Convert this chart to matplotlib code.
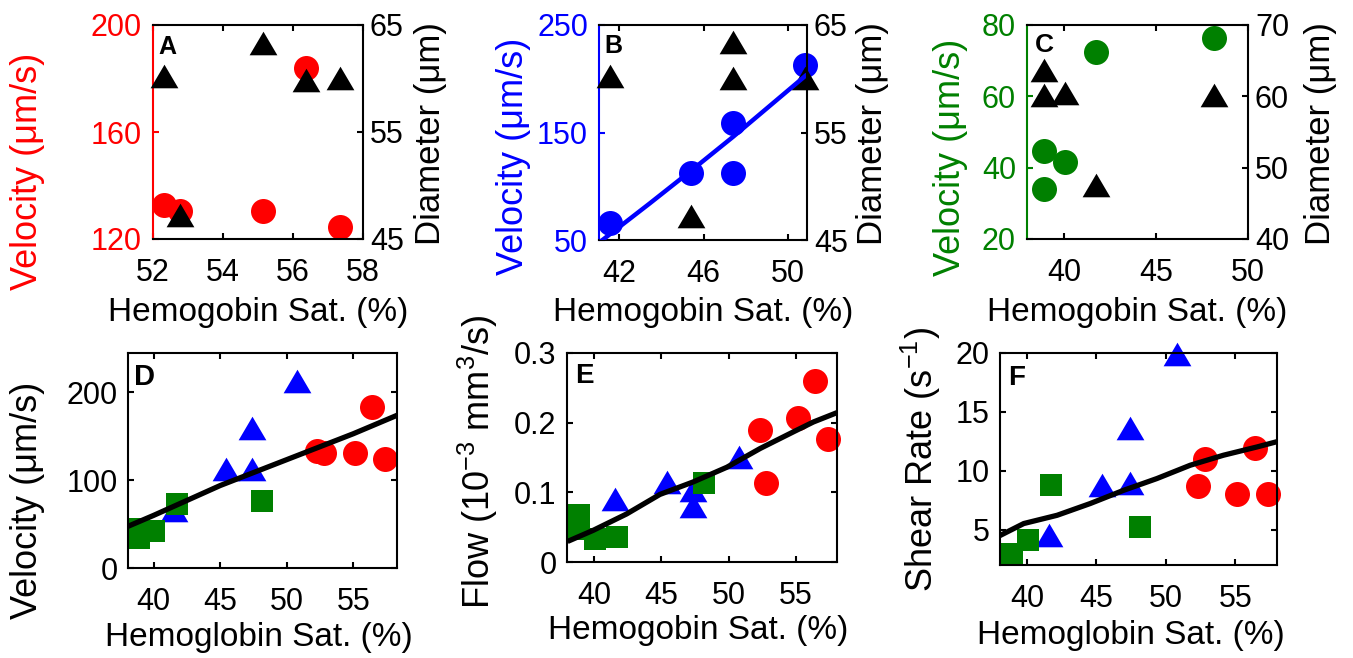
import matplotlib
matplotlib.use('Agg')
import matplotlib.pyplot as plt

plt.rcParams['font.family'] = ['Liberation Sans', 'DejaVu Sans']
plt.rcParams['mathtext.fontset'] = 'custom'
plt.rcParams['mathtext.rm'] = 'Liberation Sans'
plt.rcParams['mathtext.it'] = 'Liberation Sans:italic'
plt.rcParams['mathtext.bf'] = 'Liberation Sans:bold'

# ---------------- data ----------------
# Panel A (red group)
a_sat = [52.3, 52.78, 55.13, 56.38, 57.35]
a_vel = [132.8, 130.6, 130.6, 183.8, 124.4]
a_diam = [60.2, 47.2, 63.35, 59.9, 60.0]
a_flow = [0.189, 0.113, 0.206, 0.260, 0.177]
a_shear = [8.68, 11.04, 8.0, 11.94, 8.0]

# Panel B (blue group)
b_sat = [41.55, 45.4, 47.38, 47.38, 50.8]
b_vel = [66.1, 112.6, 159.1, 112.6, 212.8]
b_diam = [60.25, 47.2, 60.04, 63.4, 60.07]
b_flow = [0.091, 0.115, 0.103, 0.081, 0.151]
b_shear = [4.52, 8.77, 13.63, 8.96, 19.95]
b_fit_sat = [41.05, 43.45, 45.35, 47.4, 49.0, 50.9]
b_fit_vel = [47.5, 84.0, 113.5, 146.0, 172.5, 204.0]

# Panel C (green group)
c_sat = [38.92, 38.92, 40.05, 41.74, 48.16]
c_vel = [44.8, 34.0, 41.7, 72.5, 76.4]
c_diam = [63.7, 60.2, 60.5, 47.5, 60.25]
c_flow = [0.067, 0.048, 0.0326, 0.0354, 0.114]
c_shear = [2.97, 2.97, 4.1, 8.77, 5.23]

# fitted trend lines for pooled data (D, E, F)
d_fit_sat = [38.07, 40.0, 45.0, 50.0, 55.0, 58.28]
d_fit_vel = [47.5, 60.0, 94.0, 123.5, 153.0, 174.0]
e_fit_sat = [38.22, 39.95, 42.43, 44.9, 47.38, 49.87, 52.35, 54.83, 56.3, 58.0]
e_fit_flow = [0.031, 0.0455, 0.069, 0.097, 0.115, 0.136, 0.163, 0.187, 0.201, 0.214]
f_fit_sat = [38.08, 39.76, 42.16, 44.55, 46.95, 49.35, 51.75, 54.14, 56.55, 57.93]
f_fit_shear = [4.52, 5.52, 6.22, 7.22, 8.34, 9.34, 10.47, 11.32, 12.02, 12.45]

RED = '#ff0000'
BLUE = '#0000ff'
GREEN = '#008000'

W, H = 1353, 658
fig = plt.figure(figsize=(W / 100, H / 100), dpi=100)

TICK_FS = 22
XLAB_FS = 24
YLAB_FS = 26
RLAB_FS = 25

TRI = [(-1.0, -0.85), (1.0, -0.85), (0.0, 0.85)]
CIRC_MS = 18
TRI_MS = 20
SQ_MS = 16.5


def add_axes(x0, y0, x1, y1):
    return fig.add_axes([x0 / W, 1 - y1 / H, (x1 - x0) / W, (y1 - y0) / H])


def style(ax, lw=1.5):
    for s in ax.spines.values():
        s.set_linewidth(lw)
    ax.tick_params(direction='in', length=4, width=1.5, labelsize=TICK_FS)
    ax.tick_params(axis='x', pad=13.5)


def xlabel(text, xc, yb):
    fig.text(xc / W, 1 - yb / H, text, ha='center', va='baseline', fontsize=XLAB_FS)


def ylabel(text, xb, yc, color='black', fs=YLAB_FS):
    fig.text(xb / W, 1 - yc / H, text, ha='center', va='baseline', rotation=90,
             rotation_mode='anchor', fontsize=fs, color=color)


def plabel(text, x, yb, fs):
    fig.text(x / W, 1 - yb / H, text, ha='left', va='baseline', fontsize=fs,
             fontweight='bold')


def top_panel(box, sat, vel, diam, color, xlim, xticks, ylim, yticks, dlim, dticks,
              fit=None):
    ax = add_axes(*box)
    ax2 = ax.twinx()
    style(ax)
    style(ax2)
    ax.set_xlim(*xlim)
    ax.set_ylim(*ylim)
    ax2.set_ylim(*dlim)
    ax.set_xticks(xticks)
    ax.set_yticks(yticks)
    ax2.set_yticks(dticks)
    ax.tick_params(axis='x', top=True, colors='black')
    ax.tick_params(axis='y', colors=color, pad=8)
    ax2.tick_params(axis='y', colors='black', pad=5)
    ax.spines['left'].set_color(color)
    ax.spines['right'].set_visible(False)
    ax2.spines['left'].set_visible(False)
    ax2.spines['bottom'].set_visible(False)
    ax2.spines['top'].set_visible(False)
    ax.plot(sat, vel, 'o', color=color, ms=CIRC_MS, mew=0, clip_on=False)
    ax2.plot(sat, diam, linestyle='none', marker=TRI, color='black', ms=TRI_MS,
             mew=0, clip_on=False)
    if fit is not None:
        ax2.plot(fit[0], fit[1], '-', color=color, lw=3.2, transform=ax.transData,
                 solid_capstyle='butt')
    return ax, ax2


def bottom_panel(box, yA, yB, yC, fit_x, fit_y, xlim, ylim, yticks, yticklabels=None):
    ax = add_axes(*box)
    style(ax)
    ax.set_xlim(*xlim)
    ax.set_ylim(*ylim)
    ax.set_xticks([40, 45, 50, 55])
    ax.set_yticks(yticks)
    if yticklabels is not None:
        ax.set_yticklabels(yticklabels)
    ax.tick_params(top=True, right=True)
    ax.tick_params(axis='y', pad=7.5)
    ax.plot(a_sat, yA, 'o', color=RED, ms=CIRC_MS, mew=0, clip_on=False)
    ax.plot(b_sat, yB, linestyle='none', marker=TRI, color=BLUE, ms=TRI_MS, mew=0,
            clip_on=False)
    ax.plot(c_sat, yC, 's', color=GREEN, ms=SQ_MS, mew=0, clip_on=False)
    ax.plot(fit_x, fit_y, '-', color='black', lw=3.8)
    return ax


# ---- Panel A ----
top_panel((153, 25, 363, 239), a_sat, a_vel, a_diam, RED, (52, 58), [52, 54, 56, 58],
          (120, 200), [120, 160, 200], (45, 65), [45, 55, 65])
ylabel('Velocity (\u03bcm/s)', 37, 171, RED)
ylabel('Diameter (\u03bcm)', 440, 134, 'black', RLAB_FS)
xlabel('Hemogobin Sat. (%)', 258, 321)
plabel('A', 158, 54, 18)

# ---- Panel B ----
top_panel((599, 25, 807, 240), b_sat, b_vel, b_diam, BLUE, (41.05, 50.9), [42, 46, 50],
          (50, 250), [50, 150, 250], (45, 65), [45, 55, 65],
          fit=(b_fit_sat, b_fit_vel))
ylabel('Velocity (\u03bcm/s)', 523, 156, BLUE)
ylabel('Diameter (\u03bcm)', 882, 134, 'black', RLAB_FS)
xlabel('Hemogobin Sat. (%)', 703, 321)
plabel('B', 604, 53, 18)

# ---- Panel C ----
top_panel((1027, 25, 1248, 239), c_sat, c_vel, c_diam, GREEN, (38, 50), [40, 45, 50],
          (20, 80), [20, 40, 60, 80], (40, 70), [40, 50, 60, 70])
ylabel('Velocity (\u03bcm/s)', 960, 157, GREEN)
ylabel('Diameter (\u03bcm)', 1330, 134, 'black', RLAB_FS)
xlabel('Hemogobin Sat. (%)', 1137, 321)
plabel('C', 1035, 52, 19)

# ---- Panel D ----
bottom_panel((128, 353, 397, 568), a_vel, b_vel, c_vel, d_fit_sat, d_fit_vel,
             (38.07, 58.28), (0, 245), [0, 100, 200])
ylabel('Velocity (\u03bcm/s)', 37, 500)
xlabel('Hemoglobin Sat. (%)', 259, 646)
plabel('D', 134, 385, 21)

# ---- Panel E ----
bottom_panel((567, 353, 837, 562), a_flow, b_flow, c_flow, e_fit_sat, e_fit_flow,
             (38.0, 58.05), (0, 0.3), [0, 0.1, 0.2, 0.3], ['0', '0.1', '0.2', '0.3'])
ylabel('Flow (10$^{-3}$ mm$^{3}$/s)', 490, 462)
xlabel('Hemogobin Sat. (%)', 698, 639)
plabel('E', 575, 383, 20)

# ---- Panel F ----
bottom_panel((1000, 353, 1277, 565), a_shear, b_shear, c_shear, f_fit_sat, f_fit_shear,
             (38.05, 58.0), (2, 20), [5, 10, 15, 20])
ylabel('Shear Rate (s$^{-1}$)', 933, 460)
xlabel('Hemoglobin Sat. (%)', 1131, 644)
plabel('F', 1008, 385, 20)

fig.savefig('out.png', dpi=100)
